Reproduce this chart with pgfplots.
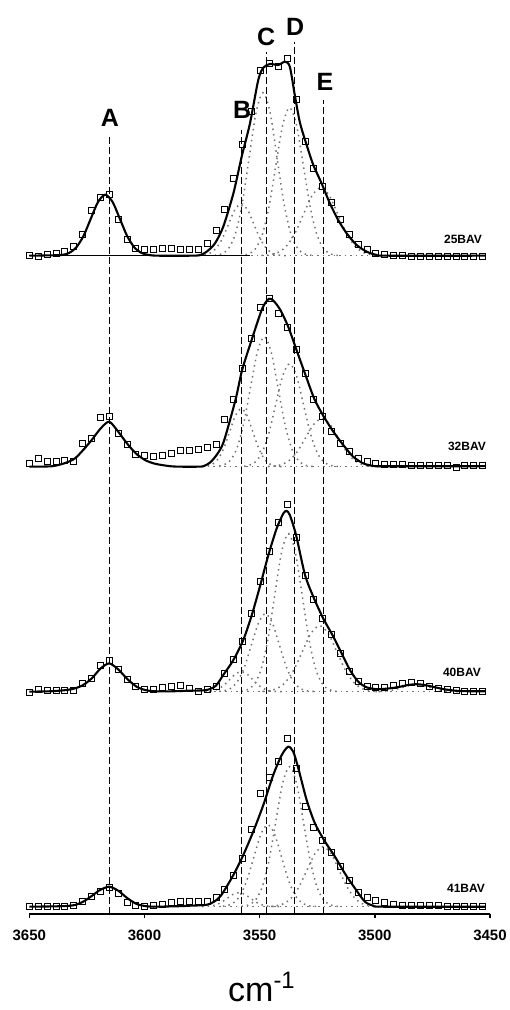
\documentclass[border=0pt]{standalone}
\usepackage{pgfplots}
\pgfplotsset{compat=1.18}
\usepackage{pgfplotstable}
\usepackage{fontspec}
\setmainfont{Liberation Sans}

% measured absorbance (heights above each trace's own baseline)
\pgfplotstableread{
x      s25   s32   s40   s41
3650.0 0     2.7   -1    0
3646.1 -1    8.3   2     0.7
3642.3 1     5     1     0
3638.4 2     5     1     0
3634.6 4     5.7   1     0.7
3630.7 9     5     1.5   1.7
3626.8 21    23.3  8     5
3623.0 45    28.3  13    10.7
3619.1 58    49.3  26    15
3615.3 61    50    31    19.3
3611.4 36    33.3  22    13.3
3607.5 16    22.3  12    4
3603.7 7     11.7  5     1.7
3599.8 6     10.7  2     0.7
3596.0 6     10    2     1.7
3592.1 7     10.7  4     2.7
3588.2 7     13.3  5.5   4
3584.4 6     15.7  6.5   5
3580.5 6     16    3.3   5
3576.7 6     17    0     5
3572.8 12    19    2     5
3568.9 25    22.5  5     9.3
3565.1 46    46.7  18    17.5
3561.2 77    66.7  32    31
3557.4 111   98.3  50    48
3553.5 144   128   78    76.7
3549.6 185   159   110   113
3545.8 192   167.7 140   129
3541.9 189   153   169   145
3538.1 197   139   187   168.3
3534.2 156   116.7 154   138
3530.3 114   93    116   100
3526.5 87    66.7  92    79
3522.6 69    50    73    66
3518.8 53    35    57    54.5
3514.9 36    23    38    40
3511.0 21    15    20    26
3507.2 11    8.3   10    14
3503.3 6     5     5     9
3499.5 2     3.3   4     6.5
3495.6 1     2.3   4.5   4.3
3491.7 0     2     6     2.7
3487.9 0     2     8     1.5
3484.0 -0.5  1.5   9     1.5
3480.2 -0.5  1.5   8     1
3476.3 -0.5  1     5.5   1
3472.4 -0.5  1     3.5   1
3468.6 -0.5  1     2     0.5
3464.7 -0.5  -0.5  1     0.5
3460.9 -0.5  1     0.5   0.5
3457.0 -0.5  1     0.5   0.5
3453.1 -0.5  1     0.5   0.5
}\spectra

\pgfplotsset{
  fitline/.style={black, line width=1.05pt, smooth, tension=0.45, no markers},
  comp/.style={black!55, dotted, line width=0.75pt, smooth, no markers},
  guide/.style={black, dash pattern=on 3.5pt off 1.5pt, line width=0.55pt, no markers},
  pts/.style={black, only marks, mark=square, mark size=1.5pt, mark options={line width=0.5pt}},
}

\begin{document}
\begin{tikzpicture}
\begin{axis}[
  scale only axis, width=230.35pt, height=457pt,
  x dir=reverse, xmin=3450, xmax=3650, ymin=0, ymax=914,
  axis x line*=bottom, axis y line=none,
  xtick={3450,3500,3550,3600,3650},
  tick align=outside, major tick length=2pt,
  axis line style={line width=0.75pt},
  every tick/.style={black, line width=0.75pt},
  xticklabel style={font=\bfseries\fontsize{7.5}{9}\selectfont, yshift=-2.5pt},
  /pgf/number format/assume math mode=true,
  /pgf/number format/1000 sep={},
  clip=false,
]

% ---------------- 25BAV (baseline 658.3) ----------------
\addplot[comp] table[x=x, y expr=\thisrow{h}+658.3, row sep=\\] {x h\\
3538.75 0.1\\ 3541.5 0.6\\ 3544.25 2.3\\ 3547 7.0\\ 3549.75 16.9\\ 3552.5 31.5\\ 3555.25 45.9\\ 3558 52\\
3560.75 45.9\\ 3563.5 31.5\\ 3566.25 16.9\\ 3569 7.0\\ 3571.75 2.3\\ 3574.5 0.6\\ 3577.25 0.1\\};
\addplot[comp] table[x=x, y expr=\thisrow{h}+658.3, row sep=\\] {x h\\
3527.5 0.4\\ 3530.5 1.8\\ 3533.5 7.2\\ 3536.5 22.1\\ 3539.5 52.9\\ 3542.5 98.9\\ 3545.5 143.8\\ 3548.5 163\\
3551.5 143.8\\ 3554.5 98.9\\ 3557.5 52.9\\ 3560.5 22.1\\ 3563.5 7.2\\ 3566.5 1.8\\ 3569.5 0.4\\};
\addplot[comp] table[x=x, y expr=\thisrow{h}+658.3, row sep=\\] {x h\\
3516 0.3\\ 3519 1.6\\ 3522 6.5\\ 3525 20.0\\ 3528 48.1\\ 3531 89.8\\ 3534 130.6\\ 3537 148\\
3540 130.6\\ 3543 89.8\\ 3546 48.1\\ 3549 20.0\\ 3552 6.5\\ 3555 1.6\\ 3558 0.3\\};
\addplot[comp] table[x=x, y expr=\thisrow{h}+658.3, row sep=\\] {x h\\
3497.25 0.15\\ 3501 0.75\\ 3504.75 3.0\\ 3508.5 9.2\\ 3512.25 22.1\\ 3516 41.2\\ 3519.75 60.0\\ 3523.5 68\\
3527.25 60.0\\ 3531 41.2\\ 3534.75 22.1\\ 3538.5 9.2\\ 3542.25 3.0\\ 3546 0.75\\ 3549.75 0.15\\};
\addplot[comp, sharp plot] coordinates {(3556,658.3) (3452,658.3)};
\addplot[black, line width=0.8pt, no markers] coordinates {(3650,658.3) (3554,658.3)};

% ---------------- 32BAV (baseline 447.3) ----------------
\addplot[comp] table[x=x, y expr=\thisrow{h}+447.3, row sep=\\] {x h\\
3540.5 0.1\\ 3543 0.6\\ 3545.5 2.5\\ 3548 7.8\\ 3550.5 18.8\\ 3553 35.2\\ 3555.5 51.2\\ 3558 58\\
3560.5 51.2\\ 3563 35.2\\ 3565.5 18.8\\ 3568 7.8\\ 3570.5 2.5\\ 3573 0.6\\ 3575.5 0.1\\};
\addplot[comp] table[x=x, y expr=\thisrow{h}+447.3, row sep=\\] {x h\\
3527 0.3\\ 3530 1.4\\ 3533 5.7\\ 3536 17.6\\ 3539 42.2\\ 3542 78.8\\ 3545 114.7\\ 3548 130\\
3551 114.7\\ 3554 78.8\\ 3557 42.2\\ 3560 17.6\\ 3563 5.7\\ 3566 1.4\\ 3569 0.3\\};
\addplot[comp] table[x=x, y expr=\thisrow{h}+447.3, row sep=\\] {x h\\
3516 0.2\\ 3519 1.1\\ 3522 4.5\\ 3525 13.9\\ 3528 33.4\\ 3531 62.5\\ 3534 90.9\\ 3537 103\\
3540 90.9\\ 3543 62.5\\ 3546 33.4\\ 3549 13.9\\ 3552 4.5\\ 3555 1.1\\ 3558 0.2\\};
\addplot[comp] table[x=x, y expr=\thisrow{h}+447.3, row sep=\\] {x h\\
3498.5 0.1\\ 3502 0.5\\ 3505.5 2.1\\ 3509 6.5\\ 3512.5 15.6\\ 3516 29.1\\ 3519.5 42.4\\ 3523 48\\
3526.5 42.4\\ 3530 29.1\\ 3533.5 15.6\\ 3537 6.5\\ 3540.5 2.1\\ 3544 0.5\\ 3547.5 0.1\\};
\addplot[comp, sharp plot] coordinates {(3575,447.3) (3452,447.3)};

% ---------------- 40BAV (baseline 222.3) ----------------
\addplot[comp] table[x=x, y expr=\thisrow{h}+222.3, row sep=\\] {x h\\
3540.5 0.04\\ 3543 0.2\\ 3545.5 0.9\\ 3548 2.7\\ 3550.5 6.5\\ 3553 12.1\\ 3555.5 17.7\\ 3558 20\\
3560.5 17.7\\ 3563 12.1\\ 3565.5 6.5\\ 3568 2.7\\ 3570.5 0.9\\ 3573 0.2\\ 3575.5 0.04\\};
\addplot[comp] table[x=x, y expr=\thisrow{h}+222.3, row sep=\\] {x h\\
3526.5 0.2\\ 3529.5 0.9\\ 3532.5 3.4\\ 3535.5 10.6\\ 3538.5 25.3\\ 3541.5 47.3\\ 3544.5 68.8\\ 3547.5 78\\
3550.5 68.8\\ 3553.5 47.3\\ 3556.5 25.3\\ 3559.5 10.6\\ 3562.5 3.4\\ 3565.5 0.9\\ 3568.5 0.2\\};
\addplot[comp] table[x=x, y expr=\thisrow{h}+222.3, row sep=\\] {x h\\
3516.5 0.3\\ 3519.5 1.8\\ 3522.5 6.9\\ 3525.5 21.4\\ 3528.5 51.3\\ 3531.5 95.8\\ 3534.5 139.4\\ 3537.5 158\\
3540.5 139.4\\ 3543.5 95.8\\ 3546.5 51.3\\ 3549.5 21.4\\ 3552.5 6.9\\ 3555.5 1.8\\ 3558.5 0.3\\};
\addplot[comp] table[x=x, y expr=\thisrow{h}+222.3, row sep=\\] {x h\\
3497.75 0.15\\ 3501.5 0.7\\ 3505.25 2.9\\ 3509 8.9\\ 3512.75 21.4\\ 3516.5 40.0\\ 3520.25 58.2\\ 3524 66\\
3527.75 58.2\\ 3531.5 40.0\\ 3535.25 21.4\\ 3539 8.9\\ 3542.75 2.9\\ 3546.5 0.7\\ 3550.25 0.15\\};
\addplot[comp] table[x=x, y expr=\thisrow{h}+222.3, row sep=\\] {x h\\
3464 0.1\\ 3467 0.3\\ 3470 0.9\\ 3473 2.3\\ 3476 4.2\\ 3479 6.2\\ 3482 7\\
3485 6.2\\ 3488 4.2\\ 3491 2.3\\ 3494 0.9\\ 3497 0.3\\ 3500 0.1\\};
\addplot[comp, sharp plot] coordinates {(3572,222.3) (3452,222.3)};

% ---------------- 41BAV (baseline 7.3) ----------------
\addplot[comp] table[x=x, y expr=\thisrow{h}+7.3, row sep=\\] {x h\\
3541.5 0\\ 3544 0.2\\ 3546.5 0.6\\ 3549 1.9\\ 3551.5 4.5\\ 3554 8.5\\ 3556.5 12.4\\ 3559 14\\
3561.5 12.4\\ 3564 8.5\\ 3566.5 4.5\\ 3569 1.9\\ 3571.5 0.6\\ 3574 0.2\\ 3576.5 0\\};
\addplot[comp] table[x=x, y expr=\thisrow{h}+7.3, row sep=\\] {x h\\
3525.5 0.2\\ 3528.5 0.9\\ 3531.5 3.6\\ 3534.5 11.1\\ 3537.5 26.6\\ 3540.5 49.7\\ 3543.5 72.4\\ 3546.5 82\\
3549.5 72.4\\ 3552.5 49.7\\ 3555.5 26.6\\ 3558.5 11.1\\ 3561.5 3.6\\ 3564.5 0.9\\ 3567.5 0.2\\};
\addplot[comp] table[x=x, y expr=\thisrow{h}+7.3, row sep=\\] {x h\\
3516 0.3\\ 3519 1.6\\ 3522 6.1\\ 3525 18.9\\ 3528 45.5\\ 3531 84.9\\ 3534 123.6\\ 3537 140\\
3540 123.6\\ 3543 84.9\\ 3546 45.5\\ 3549 18.9\\ 3552 6.1\\ 3555 1.6\\ 3558 0.3\\};
\addplot[comp] table[x=x, y expr=\thisrow{h}+7.3, row sep=\\] {x h\\
3498 0.1\\ 3501.5 0.7\\ 3505 2.6\\ 3508.5 8.1\\ 3512 19.5\\ 3515.5 36.4\\ 3519 53.0\\ 3522.5 60\\
3526 53.0\\ 3529.5 36.4\\ 3533 19.5\\ 3536.5 8.1\\ 3540 2.6\\ 3543.5 0.7\\ 3547 0.1\\};
\addplot[comp, sharp plot] coordinates {(3570,7.3) (3452,7.3)};

% ---------------- band positions A-E ----------------
\addplot[guide] coordinates {(3615,0) (3615,777)};
\addplot[guide] coordinates {(3558,0) (3558,784)};
\addplot[guide] coordinates {(3547.2,0) (3547.2,862)};
\addplot[guide] coordinates {(3535,0) (3535,872)};
\addplot[guide] coordinates {(3522.4,0) (3522.4,814)};

% ---------------- fitted envelopes ----------------
\addplot[fitline] table[x=x, y expr=\thisrow{h}+658.3, row sep=\\] {x h\\
3650 0\\ 3642 0.3\\ 3635.9 0.7\\ 3632.75 2.7\\ 3629.6 8.3\\ 3626.45 19.8\\ 3623.3 37\\ 3620.15 53.8\\ 3617 61\\
3613.85 53.8\\ 3610.7 37\\ 3607.55 19.8\\ 3604.4 8.3\\ 3601.25 2.7\\ 3598.1 0.7\\ 3594 0\\ 3580 0\\ 3576 0.5\\
3573 4\\ 3569.4 12.3\\ 3565.8 29\\ 3561.4 62.3\\ 3557.8 99\\ 3554.2 132.3\\ 3550.6 175.7\\ 3548.4 188\\
3545.5 191.7\\ 3541.9 190.7\\ 3539 194\\ 3536.9 189\\ 3534.7 160\\ 3532.5 133\\ 3529.6 110.7\\ 3526.7 90.7\\
3523.1 72.3\\ 3519.5 52.3\\ 3515.9 35.7\\ 3512.2 22.3\\ 3507.9 10.7\\ 3503.5 4\\ 3499.2 0.7\\ 3495 0\\ 3452 0\\};

\addplot[fitline] table[x=x, y expr=\thisrow{h}+447.3, row sep=\\] {x h\\
3650 0\\ 3640 0.5\\ 3634 4\\ 3630.2 8.3\\ 3626.6 16.7\\ 3622.9 26.7\\ 3619 38.3\\ 3615.3 45\\ 3611.4 35\\
3607.5 23\\ 3603.6 13\\ 3599.8 6.7\\ 3596 3.3\\ 3592 1.5\\ 3588 0.3\\ 3584 0\\ 3577 0\\ 3574.5 0.4\\
3571.6 4\\ 3568.6 12\\ 3565.6 25\\ 3560.5 66.7\\ 3557.6 96.7\\ 3553.3 128\\ 3548.9 158\\ 3546.1 167.7\\
3544 166\\ 3541 156.7\\ 3537.6 140\\ 3534 116.7\\ 3530.3 93\\ 3526.3 68\\ 3522.4 51\\ 3518 35\\ 3513.7 21.7\\
3509.4 10\\ 3505 3.3\\ 3500.7 0.8\\ 3495 0.4\\ 3452 0.5\\};

\addplot[fitline] table[x=x, y expr=\thisrow{h}+222.3, row sep=\\] {x h\\
3650 0\\ 3640 0.5\\ 3633.8 1.7\\ 3630.2 3.3\\ 3626.6 6.7\\ 3622.9 13.3\\ 3619 23.3\\ 3615.3 28.3\\ 3611.4 22.3\\
3607.3 12.3\\ 3603.4 5\\ 3599.8 1.7\\ 3596 0.5\\ 3590 0.3\\ 3580.2 1\\ 3573 1.7\\ 3569 6\\ 3565.8 16.7\\
3561.4 31.7\\ 3557.1 51.7\\ 3553.4 76.7\\ 3549.9 105\\ 3546.2 136.7\\ 3542.6 163.3\\ 3539.7 178.3\\ 3538.3 180.7\\
3536.9 176.7\\ 3534.2 156.7\\ 3530.3 116.7\\ 3526.4 93.3\\ 3522.4 73.3\\ 3518 55\\ 3514.4 38.3\\ 3510.8 21.7\\
3507.2 10\\ 3503.5 4.3\\ 3499.2 2.5\\ 3495 3\\ 3490 4.5\\ 3486 6.5\\ 3482 7.5\\ 3478 6.5\\ 3474 4.5\\ 3470 2.5\\
3465 1\\ 3460 0.5\\ 3452 0.5\\};

\addplot[fitline] table[x=x, y expr=\thisrow{h}+7.3, row sep=\\] {x h\\
3650 0\\ 3640 0.3\\ 3633.8 0.7\\ 3630.2 1.7\\ 3626.6 5\\ 3622.9 10.7\\ 3619.3 16.7\\ 3615.3 20\\ 3611.4 16\\
3607.3 8.3\\ 3603.4 2.7\\ 3599.8 0.7\\ 3596 0\\ 3585 0.5\\ 3580.2 1\\ 3572.3 2.3\\ 3567.2 10\\ 3561.4 31.7\\
3557.1 51.7\\ 3552.8 75\\ 3548.4 101.7\\ 3544.1 131.7\\ 3540.4 151.7\\ 3537.6 160\\ 3535.4 155\\ 3533.2 138.3\\
3529.6 106.7\\ 3526 83.3\\ 3521.6 65\\ 3517.3 50\\ 3513 33.3\\ 3508.6 18.3\\ 3504.3 5\\ 3500.6 1\\ 3496.3 0\\ 3452 0\\};

% ---------------- measured points ----------------
\addplot[pts] table[x=x, y expr=\thisrow{s25}+658.3] {\spectra};
\addplot[pts] table[x=x, y expr=\thisrow{s32}+447.3] {\spectra};
\addplot[pts] table[x=x, y expr=\thisrow{s40}+222.3] {\spectra};
\addplot[pts] table[x=x, y expr=\thisrow{s41}+7.3] {\spectra};

% ---------------- labels ----------------
\begin{scope}[every node/.style={font=\bfseries\fontsize{12.5}{14}\selectfont, inner sep=0pt}]
\node at (axis cs:3615,796) {A};
\node at (axis cs:3557.6,804) {B};
\node at (axis cs:3547.2,877) {C};
\node at (axis cs:3534.6,887) {D};
\node at (axis cs:3521.7,832) {E};
\end{scope}
\begin{scope}[every node/.style={font=\bfseries\fontsize{6}{7}\selectfont, inner sep=0pt}]
\node at (axis cs:3461.7,675) {25BAV};
\node at (axis cs:3460,468) {32BAV};
\node at (axis cs:3462.2,242) {40BAV};
\node at (axis cs:3460.4,26) {41BAV};
\end{scope}
\node[anchor=base, inner sep=0pt, font=\fontsize{17}{19}\selectfont] at (axis cs:3549,-87) {cm\textsuperscript{-1}};

\coordinate (bbsw) at (axis cs:3662.72,-96);
\coordinate (bbne) at (axis cs:3441.32,914);
\end{axis}
\pgfresetboundingbox
\useasboundingbox (bbsw) rectangle (bbne);
\end{tikzpicture}
\end{document}
